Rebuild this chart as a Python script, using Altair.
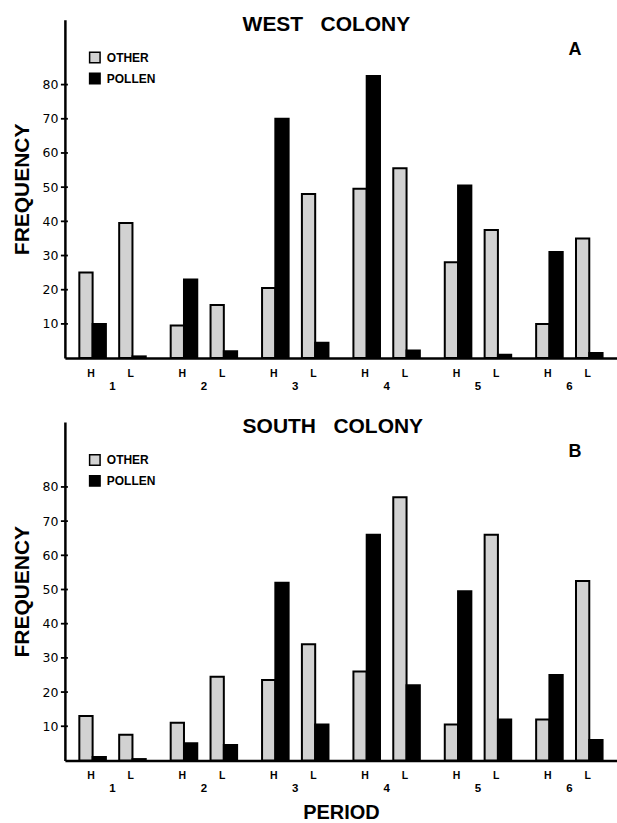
import altair as alt
import pandas as pd

# ---- data ----
periods = ["1", "2", "3", "4", "5", "6"]
subgroups = ["H", "L"]
types = ["OTHER", "POLLEN"]
tick_values = [10, 20, 30, 40, 50, 60, 70, 80]

west_other_H = [25, 9.5, 20.5, 49.5, 28, 10]
west_pollen_H = [10, 23, 70, 82.5, 50.5, 31]
west_other_L = [39.5, 15.5, 48, 55.5, 37.5, 35]
west_pollen_L = [0.5, 2, 4.5, 2.2, 1, 1.5]

south_other_H = [13, 11, 23.5, 26, 10.5, 12]
south_pollen_H = [1, 5, 52, 66, 49.5, 25]
south_other_L = [7.5, 24.5, 34, 77, 66, 52.5]
south_pollen_L = [0.4, 4.5, 10.5, 22, 12, 6]

offset_keys = ["H-OTHER", "H-POLLEN", "gap", "L-OTHER", "L-POLLEN"]

FONT = "Liberation Sans"
W, H = 553, 339
YMAX = 99


def build_df(oh, ph, ol, pl):
    rows = []
    series = {("H", "OTHER"): oh, ("H", "POLLEN"): ph,
              ("L", "OTHER"): ol, ("L", "POLLEN"): pl}
    for i, p in enumerate(periods):
        for s in subgroups:
            for t in types:
                rows.append({"period": p, "sub": s, "type": t,
                             "key": f"{s}-{t}", "value": series[(s, t)][i]})
    return pd.DataFrame(rows)


def panel(title, letter, df, show_xtitle):
    xscale = alt.Scale(domain=periods, paddingInner=0.273, paddingOuter=0.158)
    xoff = alt.XOffset("key:N", scale=alt.Scale(domain=offset_keys, paddingInner=0, paddingOuter=0))
    yscale = alt.Scale(domain=[0, YMAX], nice=False, zero=True)

    xaxis = alt.Axis(
        title="PERIOD" if show_xtitle else None,
        labelAngle=0, ticks=False, grid=False,
        domainColor="black", domainWidth=2.5,
        labelPadding=22, labelFont=FONT, labelFontSize=11.5,
        labelFontWeight="bold", labelColor="black",
        titleFont=FONT, titleFontSize=20, titleFontWeight="bold",
        titleColor="black", titlePadding=9,
    )
    yaxis = alt.Axis(
        title="FREQUENCY", values=tick_values, ticks=False, grid=False,
        domainColor="black", domainWidth=2.5,
        labelPadding=7, labelFont="DejaVu Sans", labelFontSize=12.5,
        labelColor="black",
        titleFont=FONT, titleFontSize=21, titleFontWeight="bold",
        titleColor="black", titlePadding=10,
    )

    bars = alt.Chart(df).mark_bar(stroke="black", strokeWidth=2).encode(
        x=alt.X("period:N", sort=periods, scale=xscale, axis=xaxis),
        xOffset=xoff,
        y=alt.Y("value:Q", scale=yscale, axis=yaxis),
        fill=alt.Fill(
            "type:N",
            scale=alt.Scale(domain=types, range=["#d2d2d2", "#000000"]),
            legend=alt.Legend(
                title=None, orient="none", legendX=24, legendY=32,
                symbolType="square", symbolSize=110,
                symbolStrokeColor="black", symbolStrokeWidth=1.5,
                labelFont=FONT, labelFontSize=12, labelFontWeight="bold",
                labelColor="black", rowPadding=3, labelOffset=6, padding=0,
            ),
        ),
    )

    ticks = alt.Chart(pd.DataFrame({"tick": tick_values})).mark_rule(
        color="black", strokeWidth=1.8
    ).encode(
        y=alt.Y("tick:Q", scale=yscale),
        x=alt.value(-4), x2=alt.value(3),
    )

    hl = pd.DataFrame([{"period": p, "key": f"{s}-OTHER", "lab": s}
                       for p in periods for s in subgroups])
    hl_text = alt.Chart(hl).mark_text(
        font=FONT, fontSize=10.5, fontWeight="bold", color="black",
        baseline="middle", dx=5, dy=16,
    ).encode(
        x=alt.X("period:N", sort=periods, scale=xscale),
        xOffset=xoff,
        y=alt.datum(0),
        text="lab:N",
    )

    title_txt = alt.Chart(pd.DataFrame({"t": [title]})).mark_text(
        font=FONT, fontSize=21, fontWeight="bold", color="black",
        align="left", baseline="middle",
    ).encode(x=alt.value(178), y=alt.value(5.5), text="t:N")

    letter_txt = alt.Chart(pd.DataFrame({"t": [letter]})).mark_text(
        font=FONT, fontSize=18, fontWeight="bold", color="black",
        align="center", baseline="middle",
    ).encode(x=alt.value(511), y=alt.value(30), text="t:N")

    return alt.layer(bars, ticks, hl_text, title_txt, letter_txt).properties(
        width=W, height=H
    )


west = panel("WEST\u00a0\u00a0\u00a0COLONY", "A",
             build_df(west_other_H, west_pollen_H, west_other_L, west_pollen_L), False)
south = panel("SOUTH\u00a0\u00a0\u00a0COLONY", "B",
              build_df(south_other_H, south_pollen_H, south_other_L, south_pollen_L), True)

chart = alt.vconcat(west, south, spacing=24).resolve_legend(
    fill="independent"
).properties(
    padding={"left": 11, "top": 13, "right": 0, "bottom": 0},
    background="white",
).configure_view(stroke=None)

chart.save("out.html", embed_options={"renderer": "svg", "actions": False})
